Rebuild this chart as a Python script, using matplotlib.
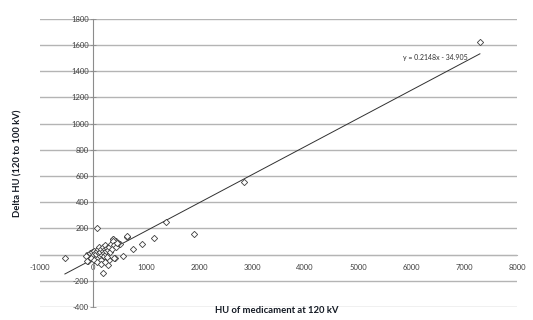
import matplotlib
matplotlib.use('Agg')
import matplotlib.pyplot as plt
import numpy as np

plt.rcParams['font.family'] = ['Lato', 'DejaVu Sans']

# HU at 120 kV and delta HU (120 -> 100 kV)
hu_120 = [-530, 70, 1380, 1900, 2850, 7300, 1160, 920, 750, 565, 650, 510, 375,
          180, 310, 275, 430, 480, 385, -90, -100, 415, 640,
          -60, -20, 0, 10, 30, 50, 60, 80, 90, 100, 110, 120, 130, 140, 150,
          160, 170, 180, 190, 200, 210, 220, 230, 240, 250, 260, 270, 280,
          300, 320, 340, 350, 370, 400, 440, 460, -40, 20, 70, 150, 230, 390,
          -130, -110]
delta_hu = [-25, 200, 245, 160, 555, 1625, 125, 80, 45, -10, 130, 80, 115,
            -140, -45, -80, 100, 90, 120, -5, -50, -25, 140,
            10, 20, -5, 30, 15, -20, 5, 25, -30, 40, 10, 55, -10, 20, 45,
            -40, 0, 30, 60, 15, -15, 40, 70, 5, 25, 50, -20, 35,
            60, 20, 80, 45, 100, 70, 60, 85, -30, -40, -55, -70, -60, -25,
            -10, -50]

slope = 0.2148
intercept = -34.905
x_ticks = [-1000, 0, 1000, 2000, 3000, 4000, 5000, 6000, 7000, 8000]
y_ticks = [-400, -200, 0, 200, 400, 600, 800, 1000, 1200, 1400, 1600, 1800]

fig = plt.figure(figsize=(5.33, 3.2), dpi=100)
ax = fig.add_axes([0.075, 0.041, 0.895, 0.9])

ax.set_xlim(-1000, 8000)
ax.set_ylim(-400, 1800)

grid_col = '#b4b4b4'
for spine in ['top', 'right']:
    ax.spines[spine].set_visible(False)
ax.spines['left'].set_position(('data', 0))
ax.spines['bottom'].set_position(('data', 0))
ax.spines['left'].set_color('#8c8c8c')
ax.spines['bottom'].set_color(grid_col)
ax.spines['left'].set_linewidth(0.8)
ax.spines['bottom'].set_linewidth(0.8)

ax.set_xticks(x_ticks)
ax.set_yticks(y_ticks)
ax.set_xticklabels([str(t) for t in x_ticks])
ax.set_yticklabels([str(t) for t in y_ticks])
ax.tick_params(axis='y', direction='inout', length=4, width=0.6, color='#8c8c8c',
               labelsize=5.5, labelcolor='#404040', pad=1)
ax.tick_params(axis='x', length=0, labelsize=5.5, labelcolor='#404040', pad=7)
ax.yaxis.grid(True, color=grid_col, linewidth=1.0)
ax.set_axisbelow(True)

# trend line
xl = np.array([min(hu_120), max(hu_120)])
ax.plot(xl, slope * xl + intercept, color='#303030', linewidth=0.7, zorder=2)

ax.plot(hu_120, delta_hu, linestyle='none', marker='D', markersize=3.2,
        markerfacecolor='white', markeredgecolor='#404040', markeredgewidth=0.6,
        zorder=3)

ax.text(5850, 1505, 'y = 0.2148x - 34.905', fontsize=5, color='#303030',
        ha='left', va='center')

fig.text(0.52, 0.03, 'HU of medicament at 120 kV', fontsize=6.8,
         fontweight='bold', color='#141a24', ha='center', va='center')
fig.text(0.034, 0.49, 'Delta HU (120 to 100 kV)', fontsize=6.8,
         fontweight='bold', color='#141a24', ha='center', va='center',
         rotation=90)

fig.savefig('out.png', dpi=100)
